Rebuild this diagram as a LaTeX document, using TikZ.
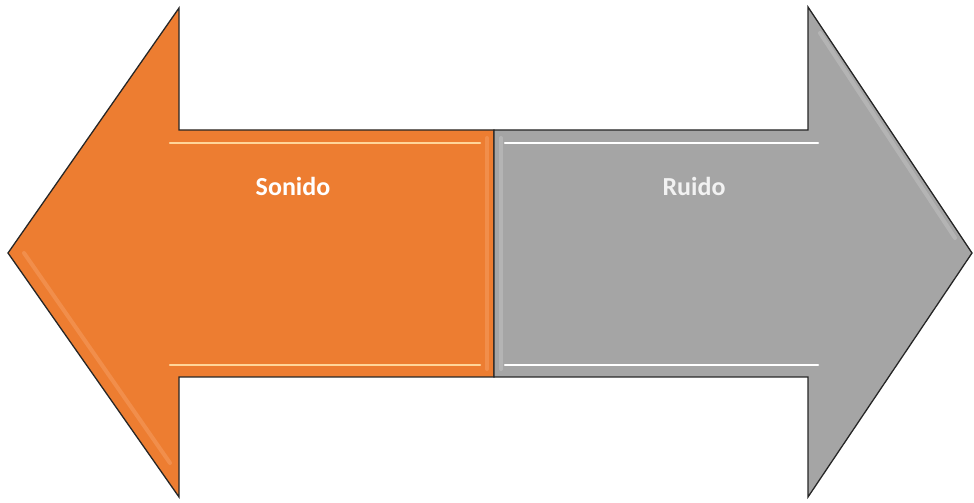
\documentclass[tikz,border=0pt]{standalone}
\usepackage{fontspec}
\setmainfont{Carlito}
\definecolor{orangefill}{HTML}{ED7D31}
\definecolor{grayfill}{HTML}{A5A5A5}
\definecolor{orangelight}{HTML}{FFD59A}
\definecolor{orangeedge}{HTML}{F6A46C}
\definecolor{grayedge}{HTML}{C8C8C8}
\tikzset{
  arrowshape/.style={draw=black!85, line width=1.3pt, line join=miter},
  hilite/.style={line width=2.5pt, line cap=round},
  bevel/.style={line width=4pt, line cap=round, opacity=0.45},
  label/.style={font=\bfseries\fontsize{26}{30}\selectfont, text=white}
}
\begin{document}
\begin{tikzpicture}[x=1pt,y=1pt]
\useasboundingbox (0,0) rectangle (974,503);
% left (orange) arrow
\fill[orangefill] (8,250) -- (179,495) -- (179,373) -- (494,373) -- (494,126) -- (179,126) -- (179,6) -- cycle;
\draw[bevel, orangeedge] (24,250) -- (170,40);
\draw[bevel, orangeedge] (487,365) -- (487,134);
\draw[hilite, orangelight] (170,360) -- (480,360);
\draw[hilite, orangelight] (170,138) -- (480,138);
\draw[arrowshape] (8,250) -- (179,495) -- (179,373) -- (494,373) -- (494,126) -- (179,126) -- (179,6) -- cycle;
% right (gray) arrow
\fill[grayfill] (494,373) -- (808,373) -- (808,496) -- (972,250) -- (808,6) -- (808,126) -- (494,126) -- cycle;
\draw[bevel, grayedge] (820,470) -- (955,265);
\draw[bevel, grayedge] (501,365) -- (501,134);
\draw[hilite, white] (505,360) -- (818,360);
\draw[hilite, white] (505,138) -- (818,138);
\draw[arrowshape] (494,373) -- (808,373) -- (808,496) -- (972,250) -- (808,6) -- (808,126) -- (494,126) -- cycle;
% labels
\node[label] (sonido) at (293,317) {Sonido};
\node[label, text=white!95!black] (ruido) at (694,317) {Ruido};
\end{tikzpicture}
\end{document}
